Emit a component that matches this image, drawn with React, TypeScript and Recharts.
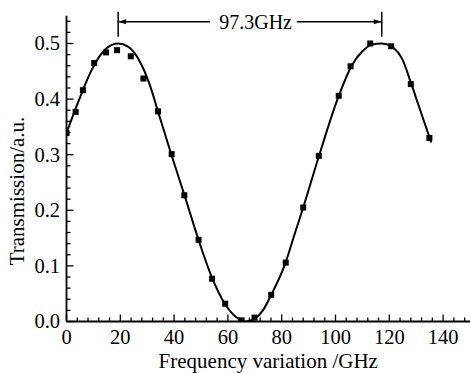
import React from 'react';
import { ComposedChart, Line, Scatter, XAxis, YAxis, ReferenceLine, ReferenceDot } from 'recharts';

const FONT = '"Liberation Serif", "Times New Roman", serif';

// measured points
const pointFreq = [0, 3.4, 6.1, 10.3, 14.7, 18.8, 23.9, 28.6, 34.0, 39.1, 43.8, 49.1, 54.1, 59.0, 65.1, 69.9, 76.1, 81.5, 88.0, 93.8, 101.2, 105.6, 112.9, 120.7, 128.0, 134.9];
const pointTrans = [0.339, 0.377, 0.416, 0.465, 0.484, 0.488, 0.477, 0.437, 0.378, 0.301, 0.227, 0.147, 0.077, 0.032, 0.002, 0.007, 0.048, 0.106, 0.205, 0.298, 0.406, 0.459, 0.5, 0.495, 0.427, 0.33];

// fitted curve
const curveFreq = [0, 3, 6, 9, 12, 15, 19.2, 23, 27, 31, 34, 39, 44, 49, 54, 59, 63, 66.7, 70, 73, 76, 81, 85, 88, 94, 101, 106, 110, 113.5, 117.2, 121, 125, 128, 131.5, 135.6];
const curveTrans = [0.339, 0.378, 0.415, 0.449, 0.475, 0.492, 0.5, 0.494, 0.47, 0.425, 0.378, 0.3, 0.225, 0.148, 0.08, 0.031, 0.008, 0.0, 0.005, 0.02, 0.047, 0.1, 0.16, 0.205, 0.3, 0.403, 0.46, 0.486, 0.498, 0.5, 0.494, 0.47, 0.43, 0.38, 0.322];

const xTicks = [0, 4, 8, 12, 16, 20, 24, 28, 32, 36, 40, 44, 48, 52, 56, 60, 64, 68, 72, 76, 80, 84, 88, 92, 96, 100, 104, 108, 112, 116, 120, 124, 128, 132, 136, 140, 144, 148];
const xMajor = [0, 20, 40, 60, 80, 100, 120, 140];
const yTicks = [0, 0.02, 0.04, 0.06, 0.08, 0.1, 0.12, 0.14, 0.16, 0.18, 0.2, 0.22, 0.24, 0.26, 0.28, 0.3, 0.32, 0.34, 0.36, 0.38, 0.4, 0.42, 0.44, 0.46, 0.48, 0.5, 0.52, 0.54];
const yMajor = [0, 0.1, 0.2, 0.3, 0.4, 0.5];

const peakLeft = 19.2;
const peakRight = 117.2;
const spacingText = '97.3GHz';
const annotLevel = 0.539;
const annotGapStart = 53.3;
const annotGapEnd = 85.7;
const annotTextX = 70.3;
const markerLow = 0.512;
const markerHigh = 0.557;

const points = pointFreq.map((f, i) => ({ f, t: pointTrans[i] }));
const curve = curveFreq.map((f, i) => ({ f, t: curveTrans[i] }));

const XTick = (props: any) => {
  const { x, y, payload } = props;
  const v = payload.value;
  const major = xMajor.includes(v);
  return (
    <g>
      <line x1={x} x2={x} y1={y} y2={y - (major ? 7 : 4)} stroke="#000" strokeWidth={1.3} />
      {major && (
        <text x={x} y={y + 22} textAnchor="middle" fontSize={20.5} fontFamily={FONT} fill="#000">{v}</text>
      )}
    </g>
  );
};

const YTick = (props: any) => {
  const { x, y, payload } = props;
  const v = payload.value;
  const major = yMajor.some((m) => Math.abs(m - v) < 1e-9);
  return (
    <g>
      <line x1={x} x2={x + (major ? 7 : 4)} y1={y} y2={y} stroke="#000" strokeWidth={1.3} />
      {major && (
        <text x={x - 6.5} y={y + 6.8} textAnchor="end" fontSize={20.5} fontFamily={FONT} fill="#000">{v.toFixed(1)}</text>
      )}
    </g>
  );
};

const Square = (props: any) => {
  const { cx, cy } = props;
  return <rect x={cx - 3} y={cy - 3} width={6} height={6} fill="#000" />;
};

const LeftArrow = (props: any) => {
  const { cx, cy } = props;
  return <polygon points={`${cx},${cy} ${cx + 8},${cy - 2.5} ${cx + 8},${cy + 2.5}`} fill="#000" />;
};
const RightArrow = (props: any) => {
  const { cx, cy } = props;
  return <polygon points={`${cx},${cy} ${cx - 8},${cy - 2.5} ${cx - 8},${cy + 2.5}`} fill="#000" />;
};
const AnnotText = (props: any) => {
  const { cx, cy } = props;
  return (
    <text x={cx} y={cy + 7} textAnchor="middle" fontSize={20} fontFamily={FONT} fill="#000">{spacingText}</text>
  );
};

export default function App() {
  return (
    <div style={{ position: 'absolute', left: 0, top: 0, background: '#fff' }}>
      <ComposedChart width={470} height={373} margin={{ top: 15.7, right: 0, bottom: 0, left: 0 }}>
        <XAxis
          type="number"
          dataKey="f"
          domain={[0, 150]}
          ticks={xTicks}
          interval={0}
          height={51.5}
          tickSize={0}
          tickMargin={0}
          tickLine={false}
          tick={<XTick />}
          axisLine={{ stroke: '#000', strokeWidth: 1.8 }}
          allowDataOverflow
          label={{ value: 'Frequency variation /GHz', position: 'insideBottom', offset: 5, fontSize: 21, fontFamily: FONT, fill: '#000' }}
        />
        <YAxis
          type="number"
          dataKey="t"
          domain={[0, 0.55]}
          ticks={yTicks}
          interval={0}
          width={66.5}
          tickSize={0}
          tickMargin={0}
          tickLine={false}
          tick={<YTick />}
          axisLine={{ stroke: '#000', strokeWidth: 1.8 }}
          allowDataOverflow
          label={{
            content: () => (
              <text x={0} y={0} transform="translate(24,191) rotate(-90)" textAnchor="middle" fontSize={21} fontFamily={FONT} fill="#000">
                Transmission/a.u.
              </text>
            ),
          }}
        />
        <Line data={curve} dataKey="t" type="monotone" stroke="#000" strokeWidth={2} dot={false} isAnimationActive={false} />
        <Scatter data={points} dataKey="t" shape={<Square />} isAnimationActive={false} />
        <ReferenceLine segment={[{ x: peakLeft, y: markerLow }, { x: peakLeft, y: markerHigh }]} stroke="#000" strokeWidth={1.5} ifOverflow="visible" />
        <ReferenceLine segment={[{ x: peakRight, y: markerLow }, { x: peakRight, y: markerHigh }]} stroke="#000" strokeWidth={1.5} ifOverflow="visible" />
        <ReferenceLine segment={[{ x: peakLeft, y: annotLevel }, { x: annotGapStart, y: annotLevel }]} stroke="#000" strokeWidth={1.5} ifOverflow="visible" />
        <ReferenceLine segment={[{ x: annotGapEnd, y: annotLevel }, { x: peakRight, y: annotLevel }]} stroke="#000" strokeWidth={1.5} ifOverflow="visible" />
        <ReferenceDot x={peakLeft} y={annotLevel} shape={<LeftArrow />} ifOverflow="visible" />
        <ReferenceDot x={peakRight} y={annotLevel} shape={<RightArrow />} ifOverflow="visible" />
        <ReferenceDot x={annotTextX} y={annotLevel} shape={<AnnotText />} ifOverflow="visible" />
      </ComposedChart>
    </div>
  );
}
